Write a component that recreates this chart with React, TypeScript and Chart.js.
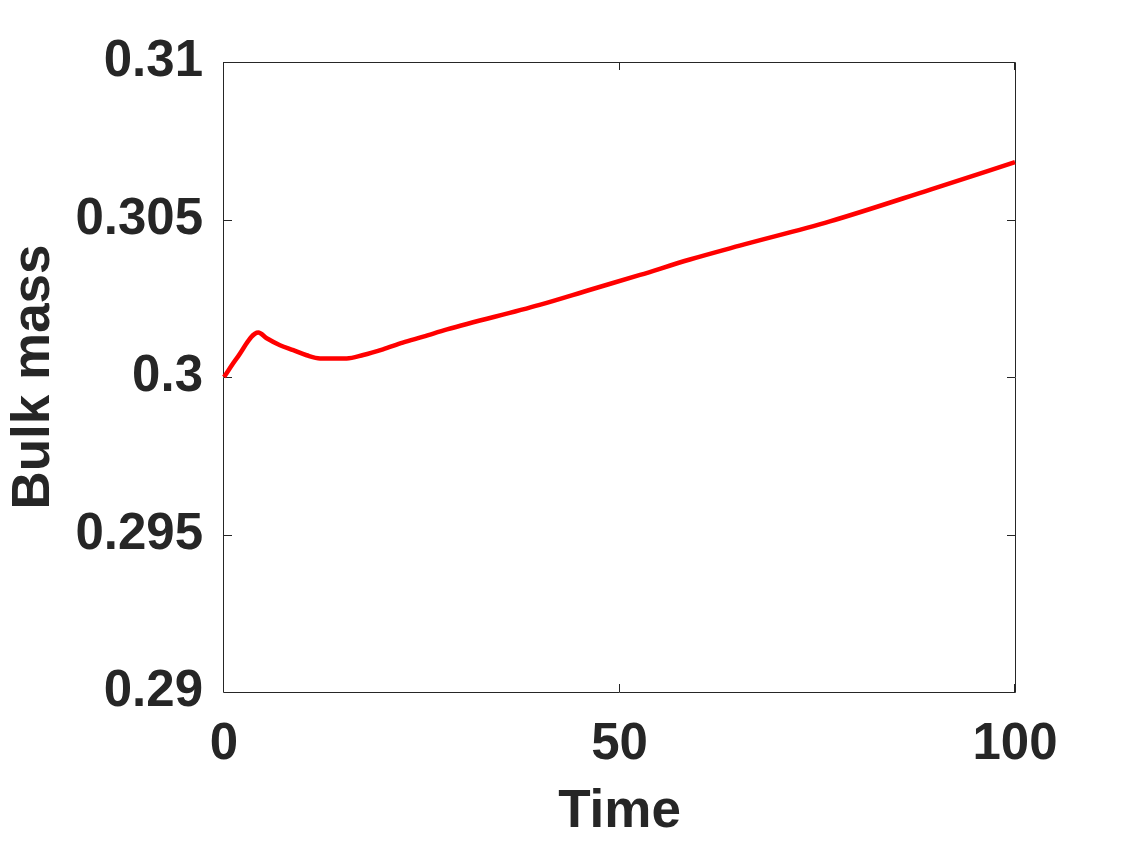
import React, { useEffect, useRef } from "react";
import { Chart, registerables } from "chart.js";

Chart.register(...registerables);

const TIME = [0, 1.6, 4.34, 5.4, 7.08, 8.76, 10.45, 12.14, 15.5, 17.6, 20.1, 22.6, 25.2, 28.2, 39.9, 46.3, 52.6, 58.9, 65.2, 76.6, 89.3, 100];
const BULK_MASS = [0.3, 0.30059, 0.30141, 0.30123, 0.30101, 0.30085, 0.30069, 0.30059, 0.30059, 0.3007, 0.30088, 0.30109, 0.30128, 0.30151, 0.30229, 0.30277, 0.30324, 0.30373, 0.30417, 0.30494, 0.30595, 0.30682];
const X_TICKS = [0, 50, 100];
const Y_TICKS = [0.29, 0.295, 0.3, 0.305, 0.31];
const X_TITLE = "Time";
const Y_TITLE = "Bulk mass";

const TEXT = "#262626";
const FONT = "'Liberation Sans', Arial, Helvetica, sans-serif";

const boxPlugin = {
  id: "matlabBox",
  beforeDatasetsDraw(chart: any) {
    const { ctx, chartArea, scales } = chart;
    const { left, right, top, bottom } = chartArea;
    const len = 8;
    ctx.save();
    ctx.strokeStyle = TEXT;
    ctx.lineWidth = 1;
    ctx.beginPath();
    ctx.rect(left - 0.5, top + 0.5, right - left + 1, bottom - top);
    for (const v of X_TICKS) {
      const x = Math.round(scales.x.getPixelForValue(v)) - 0.5;
      ctx.moveTo(x, bottom);
      ctx.lineTo(x, bottom - len);
      ctx.moveTo(x, top);
      ctx.lineTo(x, top + len);
    }
    for (const v of Y_TICKS) {
      const y = Math.round(scales.y.getPixelForValue(v)) + 0.5;
      ctx.moveTo(left, y);
      ctx.lineTo(left + len, y);
      ctx.moveTo(right, y);
      ctx.lineTo(right - len, y);
    }
    ctx.stroke();
    ctx.restore();
  },
};

function fmt(v: number) {
  return String(parseFloat(v.toFixed(4)));
}

export default function App() {
  const ref = useRef<HTMLCanvasElement>(null);

  useEffect(() => {
    if (!ref.current) return;
    const chart = new Chart(ref.current, {
      type: "line",
      data: {
        datasets: [
          {
            data: TIME.map((t, i) => ({ x: t, y: BULK_MASS[i] })),
            borderColor: "#FF0000",
            borderWidth: 4.5,
            pointRadius: 0,
            cubicInterpolationMode: "monotone",
            fill: false,
            clip: false as any,
          },
        ],
      },
      options: {
        animation: false,
        responsive: false,
        devicePixelRatio: 1,
        layout: { padding: { left: 0, top: 62, right: 108, bottom: 0 } },
        plugins: { legend: { display: false }, tooltip: { enabled: false } },
        scales: {
          x: {
            type: "linear",
            min: 0,
            max: 100,
            afterBuildTicks: (s: any) => {
              s.ticks = X_TICKS.map((v) => ({ value: v }));
            },
            afterFit: (s: any) => {
              s.height = 152;
            },
            grid: { display: false, drawTicks: false },
            border: { display: false },
            ticks: {
              color: TEXT,
              font: { family: FONT, size: 51, weight: "bold" },
              padding: 22,
              maxRotation: 0,
              autoSkip: false,
              callback: (v: any) => fmt(Number(v)),
            },
            title: {
              display: true,
              text: X_TITLE,
              color: TEXT,
              font: { family: FONT, size: 53, weight: "bold", lineHeight: 1.2 },
              padding: { top: 0, bottom: 0 },
            },
          },
          y: {
            type: "linear",
            min: 0.29,
            max: 0.31,
            afterBuildTicks: (s: any) => {
              s.ticks = Y_TICKS.map((v) => ({ value: v }));
            },
            afterFit: (s: any) => {
              s.width = 224;
            },
            grid: { display: false, drawTicks: false },
            border: { display: false },
            ticks: {
              color: TEXT,
              font: { family: FONT, size: 51, weight: "bold" },
              padding: 21,
              autoSkip: false,
              callback: (v: any) => fmt(Number(v)),
            },
            title: {
              display: true,
              text: Y_TITLE,
              color: TEXT,
              font: { family: FONT, size: 53, weight: "bold", lineHeight: 1.2 },
              padding: { top: 3, bottom: 0 },
            },
          },
        },
      },
      plugins: [boxPlugin],
    });
    return () => chart.destroy();
  }, []);

  return (
    <div style={{ position: "absolute", left: 0, top: 0, width: 1123, height: 844, background: "#fff" }}>
      <canvas ref={ref} width={1123} height={844} style={{ width: 1123, height: 844, display: "block" }} />
    </div>
  );
}
